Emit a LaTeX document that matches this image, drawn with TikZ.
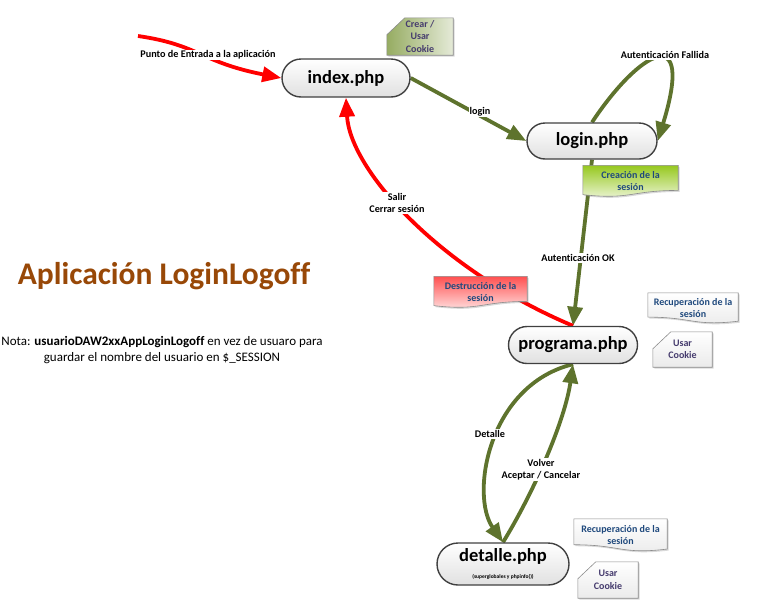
\documentclass[tikz,border=0pt]{standalone}
\usepackage{fontspec}
\setmainfont{Carlito}[Ligatures=NoCommon]
\usetikzlibrary{arrows.meta, calc, shapes.misc, shadows}

\definecolor{olivearrow}{RGB}{94,115,45}
\definecolor{titlebrown}{RGB}{152,72,7}
\definecolor{notetext}{RGB}{31,73,125}
\definecolor{cardtext}{RGB}{70,60,110}
\definecolor{cardolive}{RGB}{150,172,98}
\definecolor{limenote}{RGB}{150,200,30}
\definecolor{rednote}{RGB}{255,80,80}

\pgfdeclarelayer{edges}
\pgfdeclarelayer{notes}
\pgfsetlayers{edges,notes,main}

% document shape (wavy bottom) and punched card, drawn round a text node
\newcommand{\wavebox}[2]{%
  \path[#2] (#1.north west) -- (#1.north east) -- ($(#1.north east)!0.8!(#1.south east)$)
    .. controls ($(#1.north)!0.8!(#1.south)$) and ($(#1.north)!1.107!(#1.south)$)
    .. ($(#1.north west)!0.934!(#1.south west)$) -- cycle;}
\newcommand{\wavemirror}[2]{%
  \path[#2] (#1.north west) -- (#1.north east) -- ($(#1.north east)!0.934!(#1.south east)$)
    .. controls ($(#1.north)!1.107!(#1.south)$) and ($(#1.north)!0.8!(#1.south)$)
    .. ($(#1.north west)!0.8!(#1.south west)$) -- cycle;}
\newcommand{\cardbox}[2]{%
  \path[#2] ($(#1.north west)+(18,0)$) -- (#1.north east) -- (#1.south east)
    -- (#1.south west) -- ($(#1.north west)+(0,17)$) -- cycle;}

\begin{document}
\begin{tikzpicture}[x=1pt, y=-1pt,
    page/.style={rounded rectangle, draw=black!75, line width=1.4pt, top color=white, bottom color=black!12,
      minimum width=128pt, minimum height=38pt, inner sep=0pt, font=\bfseries\fontsize{18.5}{20}\selectfont},
    note/.style={align=center, inner sep=0pt, text=notetext, font=\bfseries\fontsize{10}{12.5}\selectfont},
    lbl/.style={fill=white, inner sep=1pt, align=center, font=\bfseries\fontsize{10.2}{12.5}\selectfont},
    notebox/.style={draw=black!45, line width=0.6pt, drop shadow={opacity=0.3, shadow xshift=1.5pt, shadow yshift=-1.5pt}},
    greenarrow/.style={-{Triangle[length=19pt, width=15pt]}, line width=3.8pt, draw=olivearrow},
    redarrow/.style={-{Triangle[length=19pt, width=15pt]}, line width=3.8pt, draw=red}
]
\useasboundingbox (0,0) rectangle (768,600);

% Pages
\node[page] (index) at (346,78) {index.php};
\node[page, minimum width=130pt, minimum height=36pt] (login) at (592,141) {login.php};
\node[page, minimum width=129pt, minimum height=37pt] (programa) at (573,345) {programa.php};
\node[page, minimum width=132pt, minimum height=42pt, align=center] (detalle) at (503,564)
  {detalle.php\\[-3pt]{\fontsize{5.5}{6}\selectfont(superglobales y phpinfo())}};

% Title and note
\node[text=titlebrown, font=\bfseries\fontsize{31.5}{36}\selectfont] (titulo) at (164,276) {Aplicación LoginLogoff};
\node[align=center, font=\fontsize{13}{15.5}\selectfont] (nota) at (162,350)
  {Nota: \textbf{usuarioDAW2xxAppLoginLogoff} en vez de usuaro para\\guardar el nombre del usuario en \$\_SESSION};

% Notes
\node[note, text=cardtext, minimum width=66pt, minimum height=37pt] (crear) at (420,36.5) {Crear /\\Usar\\Cookie};
\node[note, minimum width=95pt, minimum height=31pt] (creacion) at (630.5,181) {Creación de la\\sesión};
\node[note, minimum width=93pt, minimum height=31pt] (destruccion) at (480.5,292) {Destrucción de la\\sesión};
\node[note, minimum width=90pt, minimum height=30pt] (recupera) at (693,308) {Recuperación de la\\sesión};
\node[note, text=cardtext, minimum width=59pt, minimum height=35pt] (cookie) at (682.5,349.5) {Usar\\Cookie};
\node[note, minimum width=93pt, minimum height=32pt] (recuperb) at (620.5,535) {Recuperación de la\\sesión};
\node[note, text=cardtext, minimum width=60pt, minimum height=36pt] (cookieb) at (608,580) {Usar\\Cookie};

\begin{pgfonlayer}{notes}
\cardbox{crear}{notebox, left color=cardolive, right color=cardolive!25}
\wavebox{creacion}{notebox, top color=limenote, bottom color=limenote!15}
\wavebox{destruccion}{notebox, top color=rednote, bottom color=rednote!15}
\wavemirror{recupera}{notebox, top color=white, bottom color=black!8}
\cardbox{cookie}{notebox, top color=white, bottom color=black!8}
\wavemirror{recuperb}{notebox, top color=white, bottom color=black!8}
\cardbox{cookieb}{notebox, top color=white, bottom color=black!8}
\end{pgfonlayer}

% Connections
\begin{pgfonlayer}{edges}
\coordinate (entrada) at (138,36);
\draw[redarrow] (entrada) .. controls (200,45) and (200,62) .. (index.west);
\draw[greenarrow] (index.east) -- (login.west);
\draw[greenarrow] (login.north) .. controls (640,50) and (695,20) .. (login.east);
\draw[greenarrow] (login.south) -- (programa.north);
\draw[redarrow] (programa.north) .. controls (440,270) and (350,170) .. (index.south);
\draw[greenarrow] (programa.south) .. controls (488,385) and (470,495) .. (detalle.north);
\draw[greenarrow] (detalle.north) .. controls (535,490) and (565,420) .. (programa.south);

\node[lbl] (lbentrada) at (208,55) {Punto de Entrada a la aplicación};
\node[lbl] (lblogin) at (480,112) {login};
\node[lbl] (lbfallida) at (665,55) {Autenticación Fallida};
\node[lbl] (lbok) at (578,258) {Autenticación OK};
\node[lbl] (lbsalir) at (397,203) {Salir\\Cerrar sesión};
\node[lbl] (lbdetalle) at (490,434) {Detalle};
\node[lbl] (lbvolver) at (541,469.5) {Volver\\Aceptar / Cancelar};
\end{pgfonlayer}

\end{tikzpicture}
\end{document}
